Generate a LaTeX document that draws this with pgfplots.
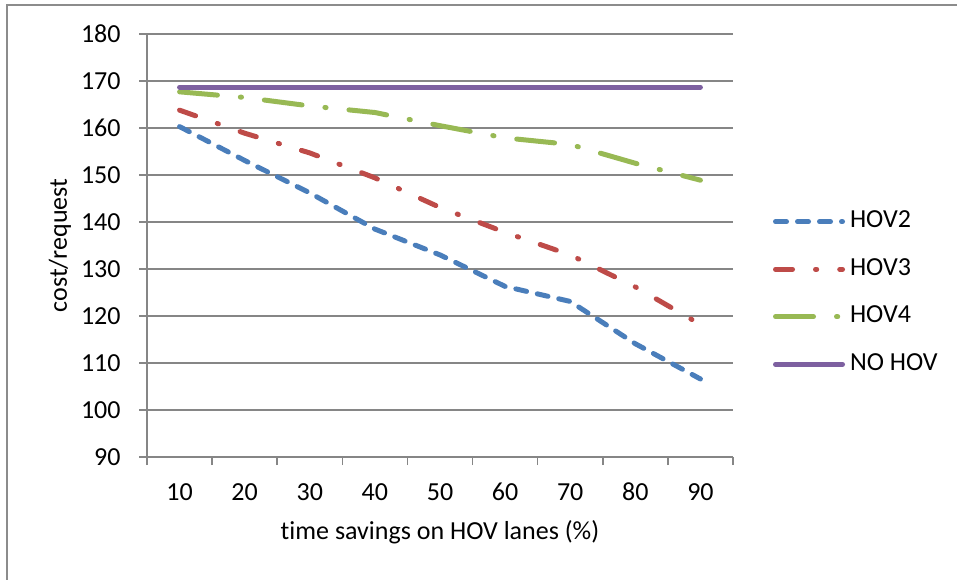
\documentclass[border=0pt]{standalone}
\usepackage{pgfplots}
\pgfplotsset{compat=1.18}
\usepackage{fontspec}
\setmainfont{Carlito}[Ligatures={NoCommon}]
\definecolor{hovtwo}{HTML}{4A7EBB}
\definecolor{hovthree}{HTML}{BE4B48}
\definecolor{hovfour}{HTML}{98B954}
\definecolor{nohov}{HTML}{7D60A0}
\definecolor{axisgray}{HTML}{868686}
\definecolor{framegray}{HTML}{8C8C8C}
\begin{document}
\fontsize{13}{15}\selectfont
\begin{tikzpicture}
\useasboundingbox (0pt,0pt) rectangle (478.5pt,289.5pt);
\draw[line width=0.8pt, framegray] (3.5pt,-2pt) -- (3.5pt,287pt) -- (482pt,287pt);
\begin{axis}[
    at={(73.5pt,61pt)}, anchor=south west,
    scale only axis, width=293pt, height=211.5pt,
    xmin=5, xmax=95, ymin=90, ymax=180,
    xtick={10,20,...,90}, ytick={90,100,...,180},
    minor xtick={5,15,...,95},
    axis x line*=bottom, axis y line*=left,
    axis line style={draw=axisgray, line width=0.8pt},
    tick align=outside,
    major tick length=4pt, minor tick length=4pt,
    every major x tick/.append style={draw=none},
    every tick/.append style={axisgray, line width=0.8pt},
    ymajorgrids, grid style={axisgray, line width=0.8pt},
    /pgf/number format/assume math mode=true,
    ticklabel style={font=\fontsize{13}{15}\selectfont},
    yticklabel style={anchor=east, inner sep=0pt, xshift=-9pt},
    xticklabel style={anchor=base, inner sep=0pt, yshift=-17.5pt},
    xlabel={time savings on HOV lanes (\%)},
    ylabel={cost/request},
    label style={font=\fontsize{13}{15}\selectfont},
    xlabel style={at={(axis description cs:0.5,-0.194)}, anchor=base},
    ylabel style={at={(axis description cs:-0.1485,0.5)}, anchor=center},
    legend style={at={(axis description cs:1.0683,0.3877)}, anchor=west,
        draw=none, fill=none, inner sep=0pt, outer sep=0pt, row sep=11.75pt,
        column sep=2.5pt, font=\fontsize{13}{15}\selectfont,
        nodes={inner sep=0pt, text height=9pt, text depth=3pt}},
    legend cell align=left,
    legend image code/.code={\draw[#1] (1.25pt,0pt) -- (34.75pt,0pt);},
    every axis plot/.append style={line width=2.5pt, line cap=round, line join=round},
]
\addplot[hovtwo, dash pattern=on 5.5pt off 5.5pt] coordinates {
    (10,160.3) (20,153.1) (30,146.2) (40,138.5) (50,133.0)
    (60,126.3) (70,123.1) (80,114.1) (90,106.6)
};
\addlegendentry{HOV2}
\addplot[hovthree, dash pattern=on 8.5pt off 11.5pt on 0.6pt off 11.5pt] coordinates {
    (10,163.8) (20,158.9) (30,154.7) (40,149.4) (50,143.1)
    (60,137.8) (70,133.0) (80,126.2) (90,118.2)
};
\addlegendentry{HOV3}
\addplot[hovfour, dash pattern=on 19pt off 11.5pt on 0.6pt off 11.5pt] coordinates {
    (10,167.7) (20,166.5) (30,164.7) (40,163.3) (50,160.5)
    (60,157.9) (70,156.5) (80,152.5) (90,148.9)
};
\addlegendentry{HOV4}
\addplot[nohov] coordinates {
    (10,168.7) (20,168.7) (30,168.7) (40,168.7) (50,168.7)
    (60,168.7) (70,168.7) (80,168.7) (90,168.7)
};
\addlegendentry{NO HOV}
\end{axis}
\end{tikzpicture}
\end{document}
